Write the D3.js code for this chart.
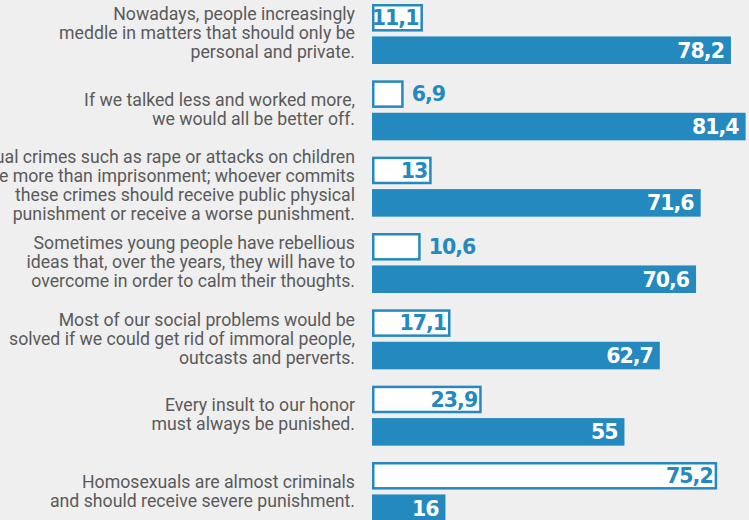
<!DOCTYPE html>
<html lang="en">
<head>
    <meta charset="UTF-8">
    <style>
        body { margin: 0; background: #efefef; }
        svg { display: block; }
        .labels {
            font-family: Roboto, "Noto Sans", sans-serif;
            font-size: 17.7px;
            fill: #5a5a5a;
            text-anchor: end;
        }
        .values {
            font-family: "DejaVu Sans", sans-serif;
            font-weight: bold;
            font-size: 20.5px;
            letter-spacing: -1px;
        }
    </style>
    <script src="https://d3js.org/d3.v7.min.js"></script>
</head>
<body>
    <div id="my_dataviz"></div>

    <script>
        // statements, already broken into lines as in the original
        var labelLines = [
            ["Nowadays, people increasingly", "meddle in matters that should only be", "personal and private."],
            ["If we talked less and worked more,", "we would all be better off."],
            ["Sexual crimes such as rape or attacks on children", "deserve more than imprisonment; whoever commits", "these crimes should receive public physical", "punishment or receive a worse punishment."],
            ["Sometimes young people have rebellious", "ideas that, over the years, they will have to", "overcome in order to calm their thoughts."],
            ["Most of our social problems would be", "solved if we could get rid of immoral people,", "outcasts and perverts."],
            ["Every insult to our honor", "must always be punished."],
            ["Homosexuals are almost criminals", "and should receive severe punishment."]
        ];
        var categories = labelLines.map(function (d, i) { return "q" + i; });

        var series = ["white", "blue"];
        var whiteValues = [11.1, 6.9, 13, 10.6, 17.1, 23.9, 75.2];
        var blueValues = [78.2, 81.4, 71.6, 70.6, 62.7, 55, 16];

        var blue = "#2389bf";
        var width = 749, height = 520;

        var svg = d3.select("#my_dataviz")
            .append("svg")
            .attr("width", width)
            .attr("height", height);

        var x = d3.scaleLinear()
            .domain([0, 100])
            .range([372, 831]);

        var y = d3.scaleBand()
            .domain(categories)
            .range([4, 522])
            .paddingInner(0.214)
            .paddingOuter(0);

        var ySub = d3.scaleBand()
            .domain(series)
            .range([0, y.bandwidth()])
            .paddingInner(0.15);

        var rows = categories.map(function (c, i) {
            return { cat: c, lines: labelLines[i], white: whiteValues[i], blue: blueValues[i] };
        });

        // question labels
        var lineH = 19;
        var labels = svg.selectAll("mylabels")
            .data(rows)
            .enter()
            .append("text")
            .attr("class", "labels")
            .attr("x", 355)
            .attr("y", function (d) {
                var mid = y(d.cat) + y.bandwidth() / 2;
                return mid - (d.lines.length - 1) * lineH / 2;
            });

        labels.selectAll("tspan")
            .data(function (d) { return d.lines; })
            .enter()
            .append("tspan")
            .attr("x", 355)
            .attr("dy", function (d, i) { return i === 0 ? "0.3em" : lineH; })
            .text(function (d) { return d; });

        var sw = 2.5;

        // outlined bars
        svg.selectAll("mywhite")
            .data(rows)
            .enter()
            .append("rect")
            .attr("x", x(0) + sw / 2)
            .attr("y", function (d) { return y(d.cat) + ySub("white") + sw / 2; })
            .attr("width", function (d) { return x(d.white) - x(0) - sw; })
            .attr("height", ySub.bandwidth() - sw)
            .style("fill", "#fff")
            .style("stroke", blue)
            .style("stroke-width", sw);

        // filled bars
        svg.selectAll("myblue")
            .data(rows)
            .enter()
            .append("rect")
            .attr("x", x(0))
            .attr("y", function (d) { return y(d.cat) + ySub("blue"); })
            .attr("width", function (d) { return x(d.blue) - x(0); })
            .attr("height", ySub.bandwidth())
            .style("fill", blue);

        var fmt = function (v) { return String(v).replace(".", ","); };

        // values of outlined bars, outside when the bar is too short
        svg.selectAll("mywhitevals")
            .data(rows)
            .enter()
            .append("text")
            .attr("class", "values")
            .attr("x", function (d) { return d.white < 11 ? x(d.white) + 8 : x(d.white) - 4.5; })
            .attr("y", function (d) { return y(d.cat) + ySub("white") + ySub.bandwidth() / 2; })
            .attr("dy", "0.36em")
            .style("text-anchor", function (d) { return d.white < 11 ? "start" : "end"; })
            .style("fill", blue)
            .text(function (d) { return fmt(d.white); });

        svg.selectAll("mybluevals")
            .data(rows)
            .enter()
            .append("text")
            .attr("class", "values")
            .attr("x", function (d) { return x(d.blue) - 7; })
            .attr("y", function (d) { return y(d.cat) + ySub("blue") + ySub.bandwidth() / 2; })
            .attr("dy", "0.36em")
            .style("text-anchor", "end")
            .style("fill", "#fff")
            .text(function (d) { return fmt(d.blue); });
    </script>
</body>
</html>
